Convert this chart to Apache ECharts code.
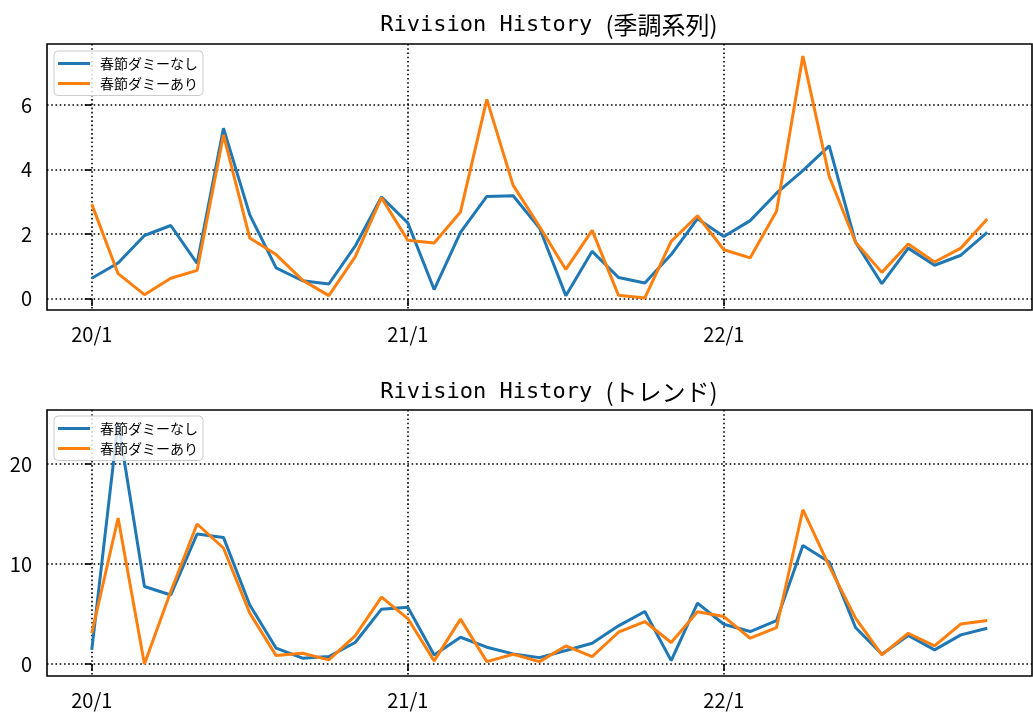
<!DOCTYPE html>
<html>
<head>
<meta charset="utf-8">
<script src="https://cdn.jsdelivr.net/npm/echarts@6/dist/echarts.min.js"></script>
<style>
  html, body { margin: 0; padding: 0; background: #fff; }
  #chart { width: 1033px; height: 721px; }
</style>
</head>
<body>
<div id="chart"></div>
<script>
// Monthly vintages, 2020/01 .. 2022/11
const months = [
  '20/1','20/2','20/3','20/4','20/5','20/6','20/7','20/8','20/9','20/10','20/11','20/12',
  '21/1','21/2','21/3','21/4','21/5','21/6','21/7','21/8','21/9','21/10','21/11','21/12',
  '22/1','22/2','22/3','22/4','22/5','22/6','22/7','22/8','22/9','22/10','22/11'
];
const xTickIdx = [0, 12, 24];

const seriesNames = ['春節ダミーなし', '春節ダミーあり'];

// Seasonally adjusted revisions
const saNoDummy = [0.64, 1.11, 1.96, 2.27, 1.10, 5.28, 2.60, 0.96, 0.56, 0.46, 1.63, 3.15,
                   2.35, 0.29, 2.06, 3.17, 3.19, 2.19, 0.10, 1.47, 0.66, 0.49, 1.37, 2.48,
                   1.93, 2.42, 3.27, 3.97, 4.73, 1.75, 0.47, 1.57, 1.04, 1.35, 2.06];
const saDummy   = [2.93, 0.78, 0.13, 0.64, 0.88, 5.07, 1.88, 1.37, 0.58, 0.10, 1.30, 3.13,
                   1.81, 1.73, 2.69, 6.17, 3.51, 2.24, 0.91, 2.12, 0.11, 0.03, 1.78, 2.57,
                   1.52, 1.27, 2.71, 7.51, 3.79, 1.75, 0.82, 1.70, 1.14, 1.57, 2.47];

// Trend revisions
const trNoDummy = [1.40, 24.2, 7.75, 6.90, 13.0, 12.66, 5.90, 1.57, 0.57, 0.73, 2.14, 5.48,
                   5.68, 0.90, 2.67, 1.67, 1.00, 0.63, 1.34, 2.07, 3.81, 5.24, 0.33, 6.08,
                   3.97, 3.24, 4.34, 11.86, 10.19, 3.64, 0.97, 2.84, 1.40, 2.91, 3.57];
const trDummy   = [3.07, 14.6, 0.00, 7.25, 14.0, 11.6, 5.08, 0.83, 1.07, 0.40, 2.80, 6.68,
                   4.54, 0.30, 4.48, 0.23, 0.97, 0.23, 1.80, 0.73, 3.17, 4.24, 2.14, 5.21,
                   4.74, 2.57, 3.64, 15.43, 9.78, 4.58, 0.90, 3.07, 1.80, 4.00, 4.34];

const yTicksSa = [0, 2, 4, 6];
const yTicksTr = [0, 10, 20];

const titleParts = [
  ['Rivision History ', '(季調系列)'],
  ['Rivision History ', '(トレンド)']
];

const COLORS = ['#1f77b4', '#ff7f0e'];
const TICK_FONT = 'Noto Sans CJK JP';

// 5% padding around the data range on each side
function padded(arrs) {
  const all = [].concat(...arrs);
  const lo = Math.min(...all), hi = Math.max(...all);
  const m = (hi - lo) * 0.05;
  return [lo - m, hi + m];
}
const xPad = (months.length - 1) * 0.05;

const gridTops = [44, 410];
const plotH = 266;

function makeTitle(parts, top) {
  return {
    left: 544, top: top, textAlign: 'center',
    text: '{a|' + parts[0] + '}{b|' + parts[1] + '}',
    textStyle: {
      fontWeight: 'normal',
      rich: {
        a: { fontFamily: 'DejaVu Sans Mono', fontSize: 22, fontWeight: 'normal', color: '#000', lineHeight: 26 },
        b: { fontFamily: 'Noto Sans CJK JP', fontSize: 24, fontWeight: 'normal', color: '#000', lineHeight: 26 }
      }
    }
  };
}

function makeLegend(top) {
  return {
    orient: 'vertical', left: 54, top: top,
    data: seriesNames,
    icon: 'rect', itemWidth: 32, itemHeight: 3, itemGap: 6,
    padding: [5.5, 5, 5, 4],
    backgroundColor: 'rgba(255,255,255,0.8)',
    borderColor: '#cccccc', borderWidth: 1, borderRadius: 4,
    textStyle: { fontFamily: 'Noto Sans CJK JP', fontSize: 14, lineHeight: 14, color: '#000', padding: [0, 0, 0, 5] }
  };
}

const dotted = { color: '#000', width: 1.6, type: [1.6, 2.64] };

function makeX(idx) {
  return {
    type: 'value', gridIndex: idx,
    min: -xPad, max: months.length - 1 + xPad,
    axisLine: { show: false },
    axisTick: { show: true, inside: false, length: 7, lineStyle: { color: '#000', width: 1.6 }, customValues: xTickIdx },
    axisLabel: {
      customValues: xTickIdx, margin: 14,
      fontFamily: TICK_FONT, fontSize: 20, color: '#000',
      formatter: v => months[Math.round(v)]
    },
    splitLine: { show: true, lineStyle: dotted }
  };
}

function makeY(idx, range, ticks) {
  return {
    type: 'value', gridIndex: idx,
    min: range[0], max: range[1],
    axisLine: { show: false },
    axisTick: { show: true, inside: false, length: 7, lineStyle: { color: '#000', width: 1.6 }, customValues: ticks },
    axisLabel: {
      customValues: ticks, margin: 15,
      fontFamily: TICK_FONT, fontSize: 20, color: '#000',
      formatter: v => String(Math.round(v))
    },
    splitLine: { show: true, lineStyle: dotted }
  };
}

function toXY(vals) { return vals.map((v, i) => [i, v]); }

function makeSeries(name, vals, idx, color) {
  return {
    name: name, type: 'line', xAxisIndex: idx, yAxisIndex: idx,
    data: toXY(vals), symbol: 'none', animation: false,
    lineStyle: { color: color, width: 3 }, itemStyle: { color: color }
  };
}

const chart = echarts.init(document.getElementById('chart'), null, { renderer: 'canvas' });
chart.setOption({
  animation: false,
  backgroundColor: '#fff',
  title: [makeTitle(titleParts[0], 7), makeTitle(titleParts[1], 374)],
  legend: [makeLegend(51), makeLegend(416)],
  grid: gridTops.map(t => ({
    left: 47, right: 1, top: t, height: plotH,
    show: true, borderColor: '#000', borderWidth: 1.6, backgroundColor: 'transparent'
  })),
  xAxis: [makeX(0), makeX(1)],
  yAxis: [
    makeY(0, padded([saNoDummy, saDummy]), yTicksSa),
    makeY(1, padded([trNoDummy, trDummy]), yTicksTr)
  ],
  series: [
    makeSeries(seriesNames[0], saNoDummy, 0, COLORS[0]),
    makeSeries(seriesNames[1], saDummy, 0, COLORS[1]),
    makeSeries(seriesNames[0], trNoDummy, 1, COLORS[0]),
    makeSeries(seriesNames[1], trDummy, 1, COLORS[1])
  ]
});
</script>
</body>
</html>
